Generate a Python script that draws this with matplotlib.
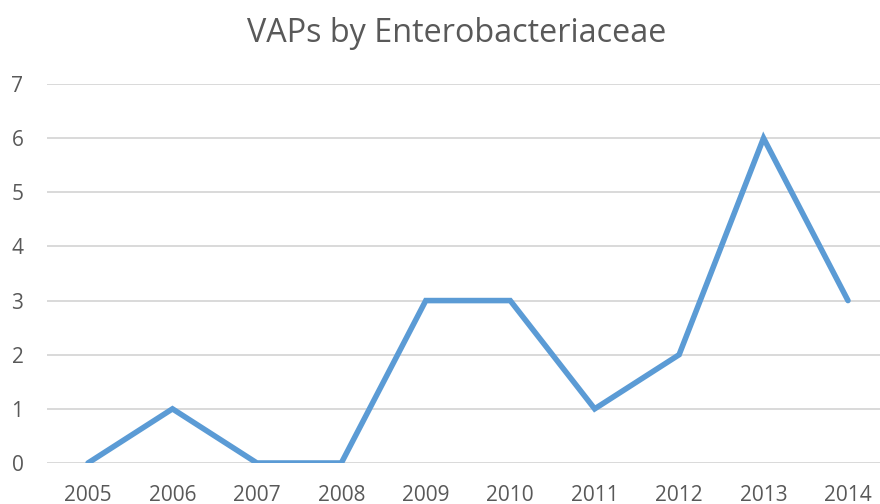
import matplotlib.pyplot as plt

years = [2005, 2006, 2007, 2008, 2009, 2010, 2011, 2012, 2013, 2014]
vaps = [0, 1, 0, 0, 3, 3, 1, 2, 6, 3]
y_ticks = [0, 1, 2, 3, 4, 5, 6, 7]

plt.rcParams["font.family"] = ["Open Sans", "DejaVu Sans"]

fig = plt.figure(figsize=(8.8, 5.04), dpi=100)
ax = fig.add_axes([47 / 880, 1 - 463 / 504, 1 - 47 / 880, (463 - 84) / 504])

ax.plot(years, vaps, color="#5B9BD5", linewidth=4.0, solid_joinstyle="miter", solid_capstyle="round")

ax.set_xlim(years[0] - (88 - 47) / 84.4, years[-1] + 32 / 84.4)
ax.set_ylim(0, 7)
ax.set_xticks(years)
ax.set_xticklabels([str(y) for y in years])
ax.set_yticks(y_ticks)
ax.grid(axis="y", color="#D9D9D9", linewidth=1.4)
ax.set_axisbelow(True)
for s in ax.spines.values():
    s.set_visible(False)
ax.tick_params(length=0, labelsize=15, labelcolor="#595959")
ax.tick_params(axis="y", pad=17)
ax.tick_params(axis="x", pad=16)

fig.text(457 / 880, 1 - 33 / 504, "VAPs by Enterobacteriaceae", ha="center", va="center",
         fontsize=23.3, color="#595959")

fig.savefig("out.png", dpi=100)
